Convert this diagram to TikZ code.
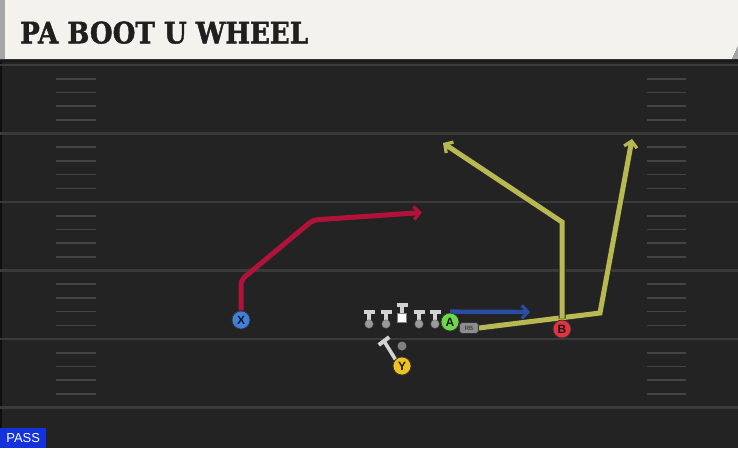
\documentclass[tikz,border=0pt]{standalone}
\usepackage{fontspec}
\newfontfamily\titlefont{DejaVu Serif}[BoldFont={DejaVu Serif Bold}, BoldFeatures={FakeBold=1.5}]
\newfontfamily\lsans{Liberation Sans}
\usetikzlibrary{arrows.meta}
\definecolor{fieldbg}{HTML}{232323}
\definecolor{yardln}{HTML}{3A3A3A}
\definecolor{hashc}{HTML}{444444}
\definecolor{cream}{HTML}{F4F2EC}
\definecolor{routered}{HTML}{B0123A}
\definecolor{routeyel}{HTML}{B9B953}
\definecolor{routeblue}{HTML}{2A4CA3}
\definecolor{xblue}{HTML}{3F7FE0}
\definecolor{agreen}{HTML}{6CD84A}
\definecolor{bred}{HTML}{E2323F}
\definecolor{yyel}{HTML}{EEC320}
\definecolor{linegray}{HTML}{D2D2D2}
\definecolor{dotgray}{HTML}{9A9A9A}
\definecolor{passblue}{HTML}{1432DC}
\tikzset{
  player/.style={circle, draw=black!80, line width=0.7pt, minimum size=18pt, inner sep=0pt, font=\lsans\bfseries\fontsize{12}{12}\selectfont, text=black!90},
  route/.style={line width=5pt, line join=miter, -{Straight Barb[length=6pt,width=13pt,line width=3.2pt]}},
  routeo/.style={route, preaction={draw=black!85, line width=7pt, -{Straight Barb[length=6pt,width=14pt,line width=4.8pt]}}},
  hash/.style={draw=hashc, line width=1.6pt},
  yard/.style={draw=yardln, line width=2.2pt},
  tbar/.style={draw=linegray, line width=4pt},
  tstem/.style={draw=linegray, line width=3.4pt},
  tdot/.style={circle, fill=dotgray, draw=black!60, line width=0.3pt, minimum size=8.5pt, inner sep=0pt},
  rbtag/.style={rounded corners=3pt, fill=black!45, draw=black!80, line width=0.6pt, minimum width=19pt, minimum height=11pt, inner sep=0pt, font=\lsans\fontsize{6}{6}\selectfont, text=black!85},
}
\begin{document}
\begin{tikzpicture}[x=1pt,y=-1pt]
\useasboundingbox (0,0) rectangle (738,448);
% field
\fill[fieldbg] (0,0) rectangle (738,448);
\fill[black!60!fieldbg] (0,0) rectangle (2,448);
% yard lines
\foreach \yy in {65,133.5,202,270.5,339,407.5} {
  \draw[yard] (0,\yy) -- (738,\yy);
}
% hash marks
\foreach \yy in {65,133.5,202,270.5,339} {
  \foreach \k in {1,2,3,4} {
    \draw[hash] (56,\yy+13.7*\k) -- (96,\yy+13.7*\k);
    \draw[hash] (647,\yy+13.7*\k) -- (686,\yy+13.7*\k);
  }
}
% header
\fill[black!90] (0,58) rectangle (738,62);
\fill[cream] (0,0) -- (738,0) -- (738,46) -- (732,59) -- (0,59) -- cycle;
\fill[black!35] (738,46) -- (732,59) -- (738,59) -- cycle;
\fill[black!35] (0,0) rectangle (5,59);
\node[anchor=south west, inner sep=0pt, text=black!88] (title) at (20,44)
  {\resizebox{288pt}{22pt}{\titlefont\bfseries PA BOOT U WHEEL}};
% route waypoints
\coordinate (x1) at (241,280);
\coordinate (x2) at (313,220);
\coordinate (x3) at (422,212.5);
\coordinate (a1) at (530,312);
\coordinate (b1) at (562,222);
\coordinate (b2) at (443,143);
\coordinate (r1) at (600,313);
\coordinate (r2) at (632,139);
% players (placed first for anchors)
\node[player, fill=xblue] (X) at (241,320) {X};
\node[player, fill=agreen] (A) at (450,322) {A};
\node[player, fill=bred] (B) at (562,329) {B};
\node[player, fill=yyel] (Y) at (402,366) {Y};
\node[rbtag] (RB) at (469,328) {RB};
% routes
\draw[route, draw=routered, rounded corners=5pt] (X.north) -- (x1) -- (x2) -- (x3);
\draw[route, draw=routeblue, line width=4.4pt] ([yshift=1pt]A.north) -- (a1);
\draw[routeo, draw=routeyel] (RB.east) -- (r1) -- (r2);
\draw[routeo, draw=routeyel] ([yshift=1pt]B.north) -- (b1) -- (b2);
% redraw players on top of routes
\node[player, fill=xblue] at (X) {X};
\node[player, fill=agreen] at (A) {A};
\node[player, fill=bred] at (B) {B};
\node[rbtag] at (RB) {RB};
% linemen
\foreach \lx/\nm in {369/lt,386/lg,419/rg,435/rt} {
  \draw[tstem] (\lx,312) -- (\lx,322);
  \draw[tbar] (\lx-5.5,311.5) -- (\lx+5.5,311.5);
  \node[tdot] (\nm) at (\lx,324) {};
}
\draw[tstem] (402,305) -- (402,314);
\draw[tbar] (396.5,304.5) -- (407.5,304.5);
\node[fill=white, draw=black!50, line width=0.3pt, minimum size=9pt, inner sep=0pt] (C) at (402,318) {};
% QB dot
\node[circle, fill=black!50, minimum size=9pt, inner sep=0pt] (QB) at (402,346) {};
% Y block
\coordinate (yb) at (384,341);
\draw[tstem, line width=3.6pt] (Y.north west) -- (yb);
\draw[tbar] (378.8,344.9) -- (389.2,337.1);
\node[player, fill=yyel] at (Y) {Y};
% PASS tag
\node[anchor=south west, fill=passblue, minimum width=46pt, minimum height=20pt, inner sep=0pt, font=\lsans\fontsize{13}{13}\selectfont, text=white] (pass) at (0,448) {PASS};
\end{tikzpicture}
\end{document}
